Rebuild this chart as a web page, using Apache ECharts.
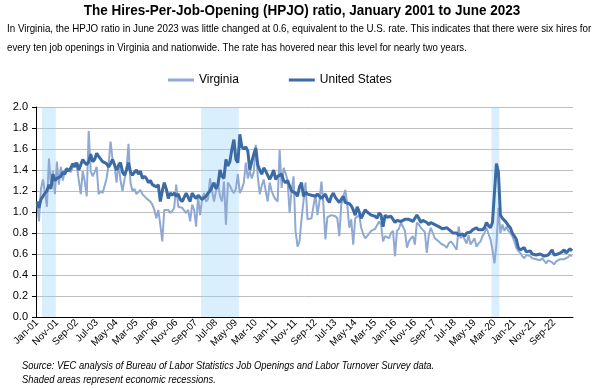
<!DOCTYPE html>
<html><head><meta charset="utf-8">
<script src="https://cdn.jsdelivr.net/npm/echarts@6/dist/echarts.min.js"></script>
<style>html,body{margin:0;padding:0;background:#fff}#c{width:604px;height:388px}</style>
</head><body><div id="c"></div>
<script>
// ---- data ----
const startYear = 2001, monthCount = 270;
const monthNames = ['Jan','Feb','Mar','Apr','May','Jun','Jul','Aug','Sep','Oct','Nov','Dec'];
const categories = [];
for (let k = 0; k < monthCount; k++) {
  const y = startYear + Math.floor(k / 12);
  categories.push(monthNames[k % 12] + '-' + String(y % 100).padStart(2, '0'));
}
const virginia = [
 1.10,0.91,1.22,1.31,1.18,1.05,1.51,1.26,1.39,1.17,1.48,1.26, // 2001
 1.43,1.30,1.40,1.42,1.43,1.38,1.43,1.47,1.44,1.45,1.17,1.39, // 2002
 1.29,1.15,1.77,1.39,1.34,1.38,1.43,1.17,1.20,1.18,1.25,1.32, // 2003
 1.45,1.67,1.50,1.43,1.28,1.47,1.30,1.20,1.31,1.40,1.65,1.28, // 2004
 1.20,1.22,1.17,1.19,1.21,1.17,1.18,1.13,1.12,1.10,1.07,1.02, // 2005
 0.94,1.02,0.88,0.72,1.02,1.02,1.02,0.99,1.01,1.04,1.26,1.05, // 2006
 1.05,1.04,1.05,0.99,1.02,0.91,1.07,1.02,0.86,1.15,0.97,1.12, // 2007
 1.18,1.10,1.12,1.32,1.20,1.10,1.20,1.29,1.15,1.10,1.29,0.88, // 2008
 1.28,1.25,1.21,1.18,1.22,1.36,1.18,1.22,1.28,1.47,1.32,1.39, // 2009
 1.32,1.38,1.64,1.34,1.17,1.25,1.31,1.20,1.10,1.28,1.20,1.15, // 2010
 1.12,1.10,1.59,1.23,1.42,1.37,1.30,0.99,1.20,1.34,0.82,0.67, // 2011
 0.72,0.93,0.94,1.28,0.93,0.93,0.94,0.94,1.17,0.97,1.10,1.29, // 2012
 1.07,0.74,0.95,0.95,0.97,0.97,0.96,0.94,0.77,1.07,1.15,1.21, // 2013
 1.07,0.85,0.93,0.69,0.94,0.94,0.97,0.85,0.79,0.75,0.77,0.77, // 2014
 0.82,0.83,0.84,0.85,0.91,0.88,0.72,0.77,0.76,0.75,0.80,0.82, // 2015
 0.58,0.82,0.84,0.90,0.86,0.82,0.66,0.72,0.75,0.77,0.69,0.90, // 2016
 0.88,0.85,0.83,0.81,0.61,0.78,0.85,0.86,0.75,0.74,0.72,0.70, // 2017
 0.71,0.68,0.66,0.70,0.72,0.70,0.71,0.64,0.86,0.75,0.78,0.74, // 2018
 0.70,0.78,0.69,0.72,0.75,0.67,0.70,0.72,0.77,0.80,0.85,0.86, // 2019
 0.74,0.64,0.51,0.69,1.04,0.80,0.88,0.82,0.86,0.82,0.80,0.77, // 2020
 0.72,0.66,0.63,0.61,0.58,0.56,0.59,0.58,0.58,0.56,0.57,0.55, // 2021
 0.56,0.54,0.56,0.55,0.51,0.54,0.55,0.52,0.50,0.53,0.53,0.55, // 2022
 0.56,0.55,0.55,0.57,0.59,0.58                                // 2023
];
const unitedStates = [
 1.10,1.04,1.12,1.15,1.18,1.20,1.26,1.22,1.36,1.30,1.32,1.31, // 2001
 1.34,1.38,1.36,1.41,1.39,1.42,1.46,1.43,1.47,1.40,1.45,1.50, // 2002
 1.47,1.45,1.48,1.55,1.48,1.50,1.56,1.53,1.52,1.48,1.47,1.46, // 2003
 1.43,1.46,1.50,1.45,1.40,1.44,1.47,1.38,1.35,1.40,1.47,1.38, // 2004
 1.35,1.38,1.40,1.36,1.39,1.32,1.34,1.32,1.28,1.30,1.26,1.27, // 2005
 1.24,1.26,1.10,1.20,1.28,1.22,1.13,1.18,1.16,1.18,1.15,1.17, // 2006
 1.12,1.10,1.14,1.18,1.14,1.10,1.18,1.15,1.13,1.16,1.14,1.12, // 2007
 1.12,1.15,1.18,1.20,1.24,1.28,1.22,1.26,1.40,1.34,1.32,1.50, // 2008
 1.44,1.48,1.60,1.69,1.50,1.47,1.74,1.62,1.60,1.62,1.58,1.40, // 2009
 1.48,1.55,1.61,1.45,1.40,1.36,1.42,1.39,1.38,1.31,1.35,1.40, // 2010
 1.31,1.34,1.35,1.36,1.30,1.28,1.30,1.25,1.20,1.20,1.18,1.15, // 2011
 1.24,1.28,1.15,1.19,1.17,1.18,1.16,1.17,1.15,1.17,1.16,1.13, // 2012
 1.14,1.17,1.12,1.09,1.15,1.18,1.14,1.15,1.09,1.12,1.15,1.09, // 2013
 1.10,1.08,1.06,1.02,0.97,1.05,1.00,0.94,0.98,1.02,1.00,0.99, // 2014
 0.97,0.98,0.96,0.94,0.99,0.97,0.86,0.97,0.95,0.94,0.96,0.93, // 2015
 0.90,0.92,0.93,0.91,0.92,0.93,0.92,0.93,0.94,0.91,0.92,0.97, // 2016
 0.94,0.90,0.92,0.93,0.90,0.88,0.90,0.89,0.88,0.87,0.86,0.85, // 2017
 0.84,0.83,0.85,0.84,0.82,0.80,0.81,0.80,0.78,0.77,0.79,0.77, // 2018
 0.80,0.81,0.81,0.83,0.82,0.85,0.83,0.84,0.83,0.85,0.90,0.87, // 2019
 0.85,0.90,0.91,1.46,1.38,0.97,0.94,0.92,0.90,0.87,0.85,0.80, // 2020
 0.77,0.74,0.66,0.64,0.63,0.66,0.62,0.61,0.63,0.60,0.61,0.59, // 2021
 0.58,0.60,0.59,0.58,0.57,0.59,0.60,0.64,0.59,0.58,0.60,0.59, // 2022
 0.62,0.64,0.61,0.63,0.65,0.63                                // 2023
];
const yTicks = [0, 0.2, 0.4, 0.6, 0.8, 1.0, 1.2, 1.4, 1.6, 1.8, 2.0];
const recessions = [['Apr-01','Oct-01'], ['Dec-07','Jun-09'], ['Feb-20','May-20']];
const seriesNames = ['Virginia', 'United States'];
const titleText = 'The Hires-Per-Job-Opening (HPJO) ratio, January 2001 to June 2023';
const subtitleLines = [
  'In Virginia, the HPJO ratio in June 2023 was little changed at 0.6, equivalent to the U.S. rate. This indicates that there were six hires for',
  'every ten job openings in Virginia and nationwide. The rate has hovered near this level for nearly two years.'
];
const footerLines = [
  'Source: VEC analysis of Bureau of Labor Statistics Job Openings and Labor Turnover Survey data.',
  'Shaded areas represent economic recessions.'
];

// ---- chart ----
const FONT = '"Liberation Sans",Arial,sans-serif';
const chart = echarts.init(document.getElementById('c'), null, {renderer: 'canvas'});
const recAreas = recessions.map(r => [
  {xAxis: categories.indexOf(r[0])},
  {xAxis: categories.indexOf(r[1]) + 1}
]);
function txt(text, x, y, size, opts) {
  opts = opts || {};
  return {
    type: 'text', x: x, y: y, scaleX: opts.scaleX || 1, silent: true,
    style: {
      text: text, x: 0, y: 0,
      fontFamily: FONT, fontSize: size,
      fontWeight: opts.weight || 'normal', fontStyle: opts.style || 'normal',
      fill: '#000', textAlign: opts.align || 'left', textVerticalAlign: 'middle'
    }
  };
}
chart.setOption({
  animation: false,
  backgroundColor: '#fff',
  textStyle: {fontFamily: FONT},
  graphic: [
    txt(titleText, 302, 11, 15, {weight: 'bold', align: 'center', scaleX: 0.9}),
    txt(subtitleLines[0], 7, 29, 11, {scaleX: 0.89}),
    txt(subtitleLines[1], 7, 48, 11, {scaleX: 0.88}),
    txt(footerLines[0], 22, 366, 10, {style: 'italic', scaleX: 0.94}),
    txt(footerLines[1], 22, 380, 10, {style: 'italic', scaleX: 0.94})
  ],
  legend: {
    left: 163, top: 69, itemGap: 50, itemWidth: 26, itemHeight: 3,
    textStyle: {fontFamily: FONT, fontSize: 12, color: '#000'},
    data: [{name: seriesNames[0], icon: 'rect'}, {name: seriesNames[1], icon: 'rect'}]
  },
  grid: {left: 36, right: 31, top: 107, bottom: 71, containLabel: false},
  xAxis: [{
    type: 'category', data: categories, boundaryGap: true,
    axisLine: {lineStyle: {color: '#000', width: 1}},
    axisTick: {show: false},
    axisLabel: {interval: 9, rotate: 45, fontFamily: FONT, fontSize: 10, color: '#000', margin: 4},
    splitLine: {show: false}
  }, {
    type: 'value', min: 0, max: monthCount, show: false
  }],
  yAxis: {
    type: 'value', min: yTicks[0], max: yTicks[yTicks.length - 1], interval: 0.2,
    axisLine: {show: true, lineStyle: {color: '#000', width: 1}},
    axisTick: {show: true, inside: false, length: 4, lineStyle: {color: '#000'}},
    axisLabel: {fontFamily: FONT, fontSize: 11, color: '#000', margin: 8,
      formatter: v => v.toFixed(1)},
    splitLine: {lineStyle: {color: '#bfbfbf', width: 1}}
  },
  series: [
    {type: 'line', xAxisIndex: 1, data: [[0, null]], silent: true, z: 1,
     showSymbol: false, lineStyle: {opacity: 0},
     markArea: {silent: true, itemStyle: {color: 'rgba(150,210,248,0.35)'}, data: recAreas}},
    {name: seriesNames[0], type: 'line', data: virginia, showSymbol: false, z: 3,
     lineStyle: {color: '#8fa9d3', width: 2}, itemStyle: {color: '#8fa9d3'}},
    {name: seriesNames[1], type: 'line', data: unitedStates, showSymbol: false, z: 4,
     lineStyle: {color: '#3c6aa4', width: 3}, itemStyle: {color: '#3c6aa4'}}
  ]
});
</script></body></html>
